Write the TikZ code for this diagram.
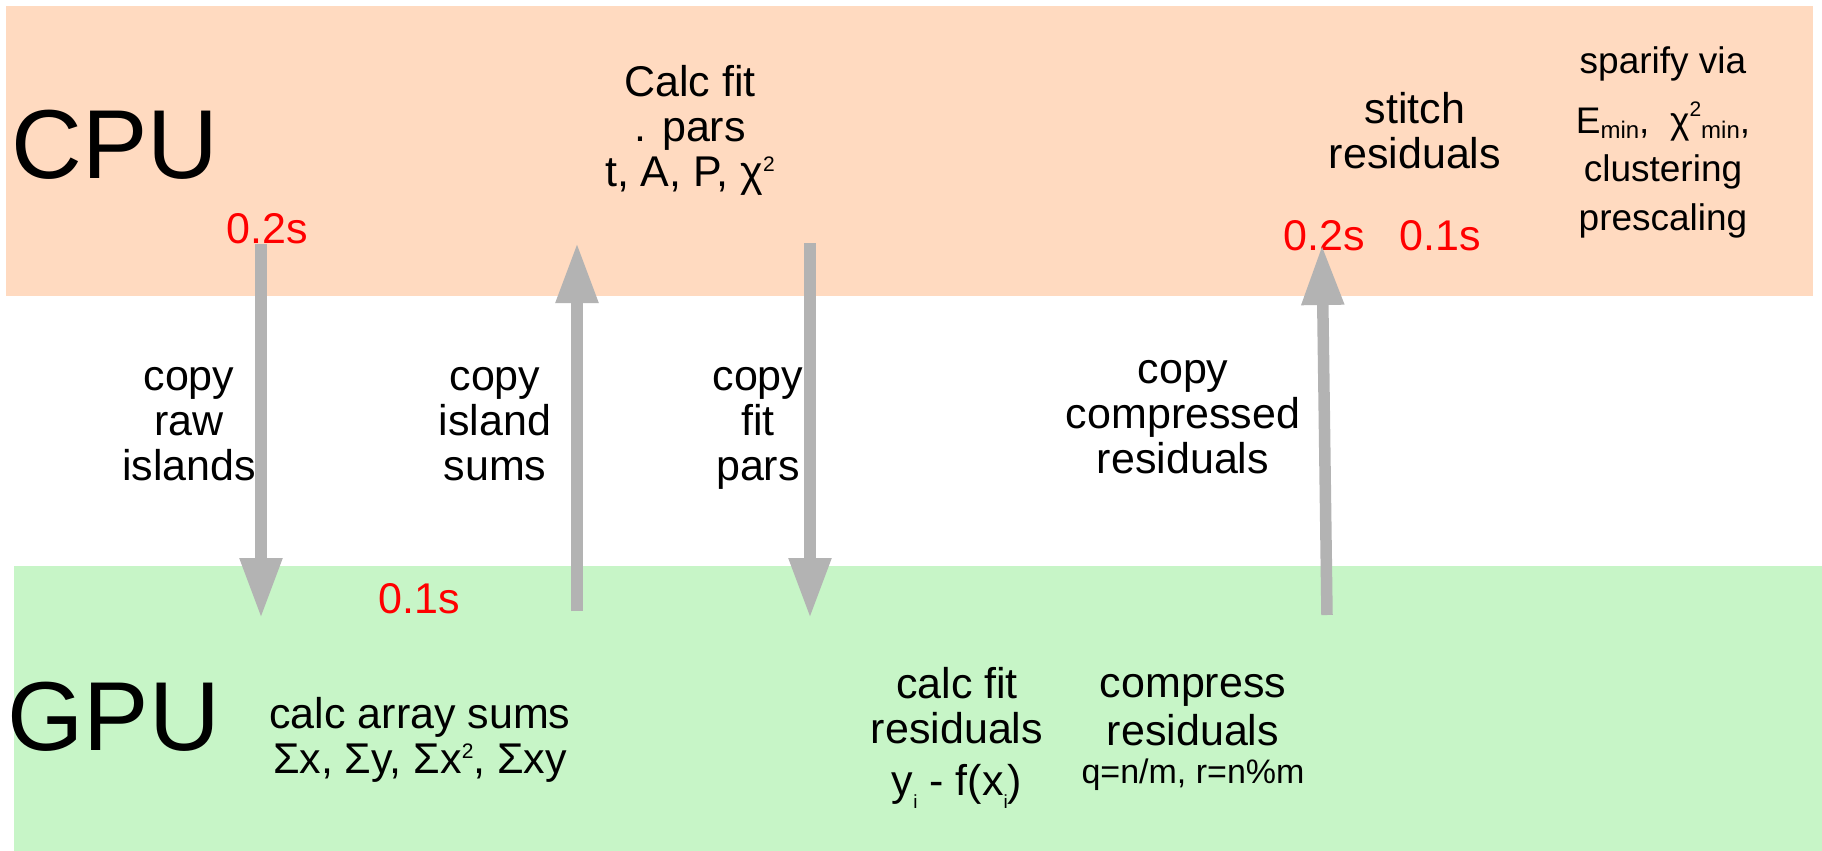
\documentclass[tikz,border=0pt]{standalone}
\usepackage{fontspec}
\setmainfont{Liberation Sans}
\usepackage{tikz}
\usetikzlibrary{arrows.meta}
\definecolor{peach}{HTML}{FFDAC0}
\definecolor{mint}{HTML}{C7F5C7}
\definecolor{pipe}{HTML}{B3B3B3}
\definecolor{timing}{HTML}{FF0000}
% raised or lowered small text: shift, size, text
\newcommand{\idx}[3]{\raisebox{#1}{\fontsize{#2}{#2}\selectfont #3}}

\begin{document}
\begin{tikzpicture}[x=0.5pt,y=-0.5pt,
  lbl/.style={align=center,inner sep=0pt,font=\fontsize{21.5}{22.5}\selectfont},
  big/.style={anchor=base west,inner sep=0pt,font=\fontsize{49}{49}\selectfont},
  tim/.style={anchor=base,inner sep=0pt,text=timing,font=\fontsize{21.5}{22.5}\selectfont},
  cpy/.style={pipe,line width=5.75pt,-{Triangle[length=30pt,width=20pt]}}]
  \useasboundingbox (0,0) rectangle (1822,851);
  % the two lanes
  \fill[peach] (6,6) rectangle (1813,296);
  \fill[mint] (14,566) rectangle (1822,851);
  \node[big] (cpu) at (11,178) {CPU};
  \node[big] (gpu) at (7,750) {GPU};
  % CPU side
  \node[lbl] (fitpars) at (690,130) {Calc fit\\. pars\\t, A, P, χ\idx{7.5pt}{10.5}{2}};
  \node[lbl] (stitch) at (1415,131) {stitch\\residuals};
  \node[lbl,font=\fontsize{18.5}{24.25}\selectfont] (sparse) at (1663,142)
     {sparify via\\[5.75pt]E\idx{-2.5pt}{12}{min},\ \ χ\idx{8.5pt}{10.5}{2}\idx{-2.5pt}{12}{min},\\clustering\\prescaling};
  \node[tim] (t1) at (267,243) {0.2s};
  \node[tim] (t3) at (1324,250) {0.2s};
  \node[tim] (t4) at (1440,250) {0.1s};
  % transfers
  \node[lbl] (raw) at (189,424) {copy\\raw\\islands};
  \node[lbl] (sums) at (495,424) {copy\\island\\sums};
  \node[lbl] (pars) at (758,428) {copy\\fit\\pars};
  \node[lbl] (comp) at (1183,417) {copy\\compressed\\residuals};
  \coordinate (a1) at (261,244); \coordinate (b1) at (261,618);
  \coordinate (a2) at (577,611); \coordinate (b2) at (577,243);
  \coordinate (a3) at (810,243); \coordinate (b3) at (810,618);
  \coordinate (a4) at (1327,615); \coordinate (b4) at (1322,245);
  \foreach \i in {1,...,4} \draw[cpy] (a\i) -- (b\i);
  % GPU side
  \node[tim] (t2) at (419,613) {0.1s};
  \node[lbl] (arrsum) at (420,740) {calc array sums\\Σx, Σy, Σx\idx{7.5pt}{10.5}{2}, Σxy};
  \node[lbl] (resid) at (957,738) {calc fit\\residuals\\[3.5pt]y\idx{-6.5pt}{9.5}{i} - f(x\idx{-6.5pt}{9.5}{i})};
  \node[lbl] (squash) at (1193,732)
     {compress\\[1.5pt]residuals\\[-3.5pt]{\fontsize{17}{17}\selectfont q=n/m, r=n\%m}};
\end{tikzpicture}
\end{document}
